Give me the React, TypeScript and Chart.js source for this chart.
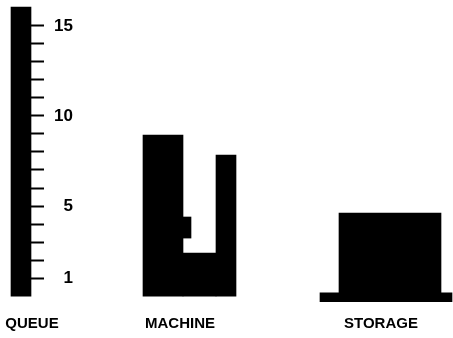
import React, { useEffect, useRef } from "react";
import { Chart, registerables } from "chart.js";

Chart.register(...registerables);

// Category labels along the bottom and where they sit on the (linear) x axis
const categories = ["QUEUE", "MACHINE", "STORAGE"];
const categoryCenters = [32, 180, 381];

// Bar segments: x extent along the linear x axis, value range on y
const segmentNames = ["QUEUE", "MACHINE A", "MACHINE B", "MACHINE C", "MACHINE notch", "STORAGE base", "STORAGE"];
const segmentStart = [11, 143, 183, 216, 183, 320, 339];
const segmentEnd = [31, 183, 216, 236, 191, 452, 441];
const segmentLow = [0, 0, 0, 0, 3.22, -0.33, 0];
const segmentHigh = [16.05, 8.94, 2.39, 7.83, 4.39, 0.18, 4.61];

// Y axis tick marks and which of them carry a label
const yTickValues = [1, 2, 3, 4, 5, 6, 7, 8, 9, 10, 11, 12, 13, 14, 15];
const yTickLabels = [1, 5, 10, 15];

const X_MIN = 0;
const X_MAX = 453;
const Y_MIN = -0.33;
const Y_MAX = 16.44;

export default function App() {
  const ref = useRef<HTMLCanvasElement | null>(null);

  useEffect(() => {
    const canvas = ref.current;
    if (!canvas) return;
    const datasets = segmentNames.map((name, i) => ({
      label: name,
      data: [
        {
          x: (segmentStart[i] + segmentEnd[i]) / 2,
          y: segmentLow[i] === 0 ? segmentHigh[i] : [segmentLow[i], segmentHigh[i]],
        },
      ],
      backgroundColor: "#000",
      borderWidth: 0,
      barThickness: segmentEnd[i] - segmentStart[i],
      stack: "all",
    }));

    const labelFont = { family: "'Liberation Sans', Arial, sans-serif", size: 17, weight: "bold" as const };

    const chart = new Chart(canvas, {
      type: "bar",
      data: { datasets: datasets as any },
      options: {
        animation: false,
        responsive: false,
        maintainAspectRatio: false,
        layout: { padding: 0 },
        plugins: { legend: { display: false }, tooltip: { enabled: false }, title: { display: false } },
        scales: {
          x: {
            type: "linear",
            offset: false,
            min: X_MIN,
            max: X_MAX,
            grid: { display: false },
            border: { display: false },
            afterBuildTicks: (scale: any) => {
              scale.ticks = categoryCenters.map((v) => ({ value: v }));
            },
            afterFit: (scale: any) => {
              scale.height = 36;
              scale.paddingLeft = 0;
              scale.paddingRight = 0;
            },
            ticks: {
              autoSkip: false,
              maxRotation: 0,
              padding: 5,
              color: "#000",
              font: { family: "'Liberation Sans', Arial, sans-serif", size: 15, weight: "bold" },
              callback: (value: any) => {
                const idx = categoryCenters.indexOf(Number(value));
                return idx >= 0 ? categories[idx] : "";
              },
            },
          },
          y: {
            type: "linear",
            display: true,
            min: Y_MIN,
            max: Y_MAX,
            stacked: false,
            position: { x: 73 } as any,
            grid: { drawOnChartArea: false, drawTicks: false },
            border: { display: false },
            afterBuildTicks: (scale: any) => {
              scale.ticks = yTickValues.map((v) => ({ value: v }));
            },
            afterFit: (scale: any) => {
              scale.paddingTop = 0;
              scale.paddingBottom = 0;
            },
            ticks: {
              autoSkip: false,
              padding: 0,
              color: "#000",
              font: labelFont,
              callback: (value: any) => (yTickLabels.includes(Number(value)) ? String(value) : ""),
            },
          },
          yMarks: {
            type: "linear",
            axis: "y",
            display: true,
            min: Y_MIN,
            max: Y_MAX,
            position: { x: 31 } as any,
            grid: {
              drawOnChartArea: false,
              drawTicks: true,
              tickLength: -13,
              tickWidth: 2,
              tickColor: "#000",
            },
            border: { display: false },
            afterBuildTicks: (scale: any) => {
              scale.ticks = yTickValues.map((v) => ({ value: v }));
            },
            afterFit: (scale: any) => {
              scale.paddingTop = 0;
              scale.paddingBottom = 0;
            },
            ticks: { autoSkip: false, display: false },
          } as any,
        },
      },
    });
    return () => chart.destroy();
  }, []);

  return (
    <div style={{ position: "fixed", left: 0, top: 0, width: 453, height: 338, background: "#fff" }}>
      <canvas ref={ref} width={453} height={338} style={{ display: "block" }} />
    </div>
  );
}
